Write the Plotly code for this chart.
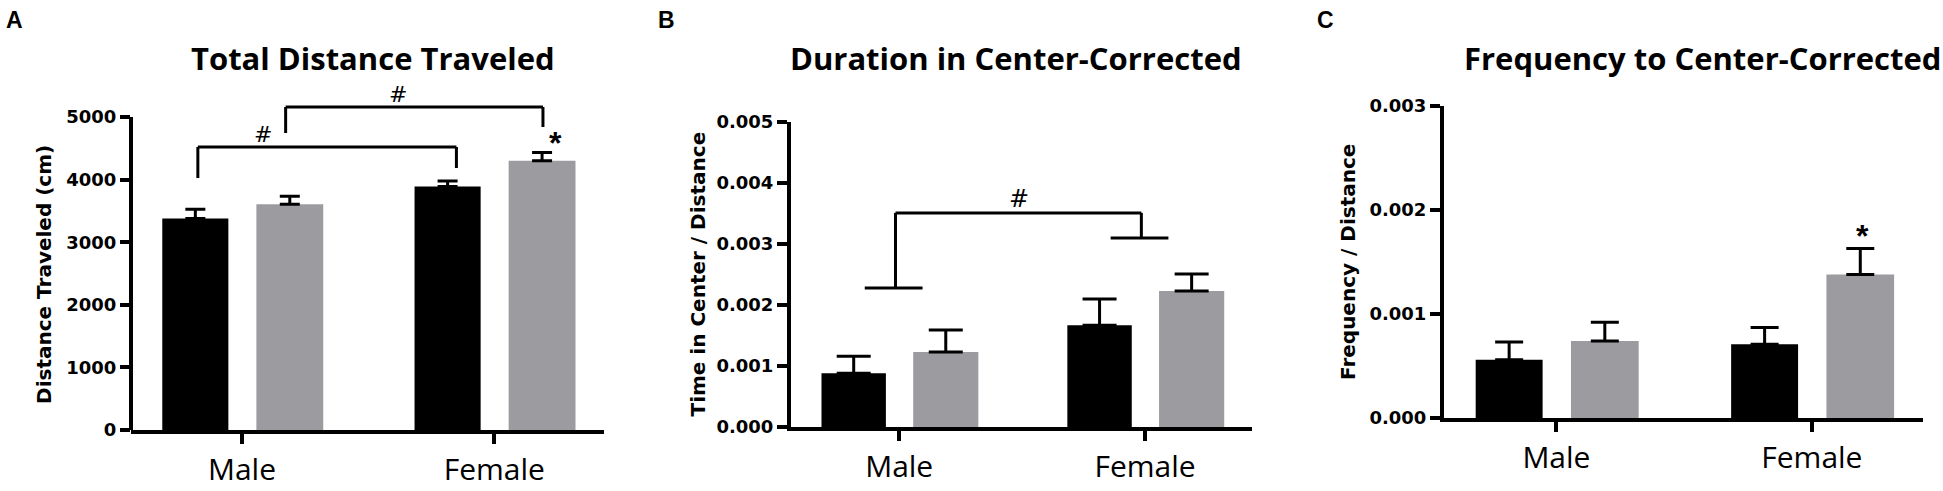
import plotly.graph_objects as go

groups = ["Male", "Female"]

# panel A - total distance traveled (cm)
dist_black = [3380, 3890]
dist_black_sem = [145, 90]
dist_gray = [3605, 4300]
dist_gray_sem = [130, 135]

# panel B - time in center / distance
dur_black = [0.00088, 0.00167]
dur_black_sem = [0.00028, 0.00043]
dur_gray = [0.00123, 0.00223]
dur_gray_sem = [0.00036, 0.00028]

# panel C - frequency / distance
freq_black = [0.00056, 0.00071]
freq_black_sem = [0.00017, 0.00016]
freq_gray = [0.00074, 0.00138]
freq_gray_sem = [0.00018, 0.00025]

BLACK = "#000000"
GRAY = "#9c9ca0"
W, H = 1943, 491

panels = [
    dict(x="x", y="y", dom=[131 / W, 604 / W], ydom=[1 - 430 / H, 1 - 101.4 / H],
         black=dist_black, bsem=dist_black_sem, gray=dist_gray, gsem=dist_gray_sem,
         yr=[0, 5250], ytv=[0, 1000, 2000, 3000, 4000, 5000], fmt="d", ymax=5000,
         title="Total Distance Traveled", ytitle="Distance Traveled (cm)",
         letter="A", lx=4, tx=373, ytx=44, cap=10),
    dict(x="x2", y="y2", dom=[791 / W, 1252 / W], ydom=[1 - 427 / H, 1 - 122 / H],
         black=dur_black, bsem=dur_black_sem, gray=dur_gray, gsem=dur_gray_sem,
         yr=[0, 0.005], ytv=[0, 0.001, 0.002, 0.003, 0.004, 0.005], fmt=".3f", ymax=None,
         title="Duration in Center-Corrected", ytitle="Time in Center / Distance",
         letter="B", lx=656, tx=1016, ytx=698, cap=17),
    dict(x="x3", y="y3", dom=[1444 / W, 1923 / W], ydom=[1 - 418 / H, 1 - 106 / H],
         black=freq_black, bsem=freq_black_sem, gray=freq_gray, gsem=freq_gray_sem,
         yr=[0, 0.003], ytv=[0, 0.001, 0.002, 0.003], fmt=".3f", ymax=None,
         title="Frequency to Center-Corrected", ytitle="Frequency / Distance",
         letter="C", lx=1315, tx=1702, ytx=1348, cap=14),
]

fig = go.Figure()
xpos = list(range(len(groups)))

for p in panels:
    for vals, sem, col, off, wd in [(p["black"], p["bsem"], BLACK, -0.316, 0.262),
                                    (p["gray"], p["gsem"], GRAY, 0.057, 0.265)]:
        fig.add_trace(go.Bar(
            x=xpos, y=vals, xaxis=p["x"], yaxis=p["y"],
            offset=off, width=wd,
            marker=dict(color=col, line=dict(width=0)),
            error_y=dict(type="data", symmetric=False, array=sem, arrayminus=[0] * len(sem),
                         color=BLACK, thickness=3, width=p["cap"]),
            showlegend=False, hoverinfo="skip",
        ))

layout = dict(
    width=W, height=H, paper_bgcolor="white", plot_bgcolor="white",
    margin=dict(l=0, r=0, t=0, b=0), barmode="overlay", showlegend=False,
)
tickfont = dict(family="DejaVu Sans", size=18, color="black", weight="bold")
annotations = []
shapes = []

for i, p in enumerate(panels):
    sfx = "" if i == 0 else str(i + 1)
    layout["xaxis" + sfx] = dict(
        domain=p["dom"], anchor=p["y"], range=[-0.44, 1.435],
        tickvals=xpos, ticktext=groups, showline=True, linecolor="black", linewidth=4,
        ticks="outside", ticklen=10, tickwidth=4, tickcolor="black",
        tickfont=dict(family="Open Sans", size=30, color="black"),
        showgrid=False, zeroline=False, automargin=False, fixedrange=True,
    )
    layout["yaxis" + sfx] = dict(
        domain=p["ydom"], anchor=p["x"], range=p["yr"], tickvals=p["ytv"],
        tickformat=p["fmt"], showline=p["ymax"] is None, linecolor="black", linewidth=4,
        ticks="outside", ticklen=10, tickwidth=4, tickcolor="black", tickfont=tickfont,
        showgrid=False, zeroline=False, automargin=False, fixedrange=True,
    )
    if p["ymax"] is not None:
        # axis line stops at the top tick, brackets sit above it
        shapes.append(dict(type="line", xref=p["x"] + " domain", yref=p["y"],
                           x0=0, x1=0, y0=0, y1=p["ymax"],
                           line=dict(color="black", width=4)))
    annotations.append(dict(text=p["title"], x=p["tx"] / W, y=1 - 58 / H, xref="paper", yref="paper",
                            showarrow=False, xanchor="center", yanchor="middle",
                            font=dict(family="Open Sans", size=31, color="black", weight="bold")))
    annotations.append(dict(text=p["letter"], x=p["lx"] / W, y=1 - 20 / H, xref="paper", yref="paper",
                            showarrow=False, xanchor="left", yanchor="middle",
                            font=dict(family="Liberation Sans", size=23, color="black", weight="bold")))
    annotations.append(dict(text=p["ytitle"], x=p["ytx"] / W, y=sum(p["ydom"]) / 2 if i else 0.44,
                            xref="paper", yref="paper", textangle=-90,
                            showarrow=False, xanchor="center", yanchor="middle",
                            font=dict(family="DejaVu Sans", size=20, color="black", weight="bold")))

# significance brackets: (xleft, xright, ytop, yleft_end, yright_end)
brackets_a = [(-0.175, 0.85, 4520, 4025, 4185), (0.173, 1.193, 5160, 4745, 4840)]
hash_a = [(0.083, 4520), (0.62, 5160)]
for xl, xr, yt, yl, yr in brackets_a:
    for x0, y0, x1, y1 in [(xl, yl, xl, yt), (xl, yt, xr, yt), (xr, yt, xr, yr)]:
        shapes.append(dict(type="line", xref="x", yref="y", x0=x0, y0=y0, x1=x1, y1=y1,
                           line=dict(color="black", width=3)))
for hx, hy in hash_a:
    annotations.append(dict(text="#", x=hx, y=hy, xref="x", yref="y", showarrow=False,
                            yanchor="bottom", yshift=-2,
                            font=dict(family="DejaVu Sans", size=22, color="black")))

# panel B bracket with cross bars over each group
b_top, b_left, b_right = 0.00351, 0.00228, 0.0031
b_legs = [(-0.015, b_left), (0.985, b_right)]
shapes.append(dict(type="line", xref="x2", yref="y2", x0=b_legs[0][0], x1=b_legs[1][0],
                   y0=b_top, y1=b_top, line=dict(color="black", width=3)))
for lx, ly in b_legs:
    shapes.append(dict(type="line", xref="x2", yref="y2", x0=lx, x1=lx, y0=ly, y1=b_top,
                       line=dict(color="black", width=3)))
    shapes.append(dict(type="line", xref="x2", yref="y2", x0=lx - 0.125, x1=lx + 0.11, y0=ly, y1=ly,
                       line=dict(color="black", width=3)))
annotations.append(dict(text="#", x=0.488, y=b_top, xref="x2", yref="y2", showarrow=False,
                        yanchor="bottom", yshift=-2,
                        font=dict(family="DejaVu Sans", size=24, color="black")))

# asterisks
for ax, ay, xr, yr in [(1.243, 4590, "x", "y"), (1.2, 0.00175, "x3", "y3")]:
    annotations.append(dict(text="*", x=ax, y=ay, xref=xr, yref=yr, showarrow=False,
                            yanchor="middle",
                            font=dict(family="Liberation Sans", size=32, color="black", weight="bold")))

layout["annotations"] = annotations
layout["shapes"] = shapes
fig.update_layout(**layout)
# page body margin would push the figure 8px down/right
fig.write_html("out.html", config={"displayModeBar": False},
               post_script="document.body.style.margin='0px';")
